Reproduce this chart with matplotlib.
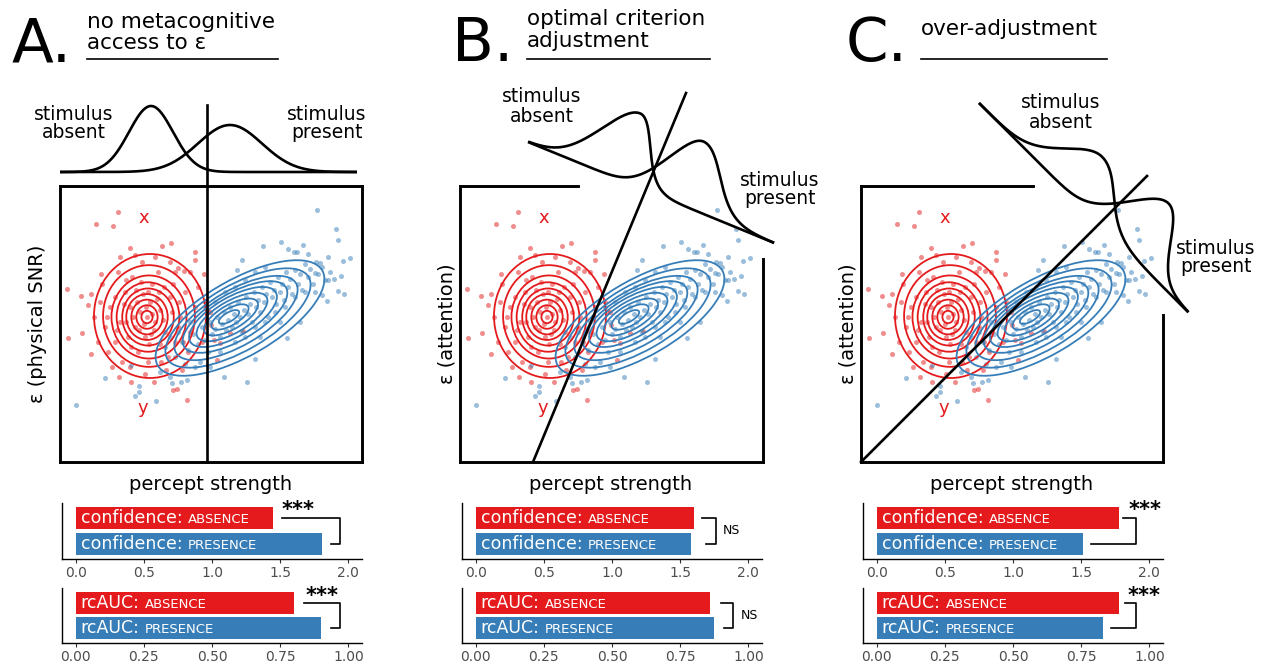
import numpy as np
import matplotlib
matplotlib.use("Agg")
import matplotlib.pyplot as plt
from matplotlib.patches import Ellipse

plt.rcParams['font.family'] = ['DejaVu Sans']

RED = '#E41A1C'
BLUE = '#377EB8'

# ---------------- data ----------------
panel_letters = ['A.', 'B.', 'C.']
panel_titles = [['no metacognitive', 'access to ε'], ['optimal criterion', 'adjustment'], ['over-adjustment']]
y_labels = ['ε (physical SNR)', 'ε (attention)', 'ε (attention)']
x_label = 'percept strength'

# simulated trials (arbitrary units: percept strength, epsilon)
red_points = [
    (58, 250), (36, 238), (53, 236), (70, 214), (102, 216), (111, 219), (135, 210), (135, 202),
    (7, 173), (21, 166), (31, 168), (28, 157), (8, 124), (22, 129), (31, 108), (59, 85),
    (71, 80), (113, 72), (117, 73), (127, 62), (94, 80), (75, 207), (118, 194), (124, 191),
    (144, 188), (41, 188),
    (151, 137), (170, 129), (183, 131), (160, 119), (157, 102), (154, 122), (145, 160), (150, 150),
    (87, 145), (80, 150), (95, 140), (90, 160), (75, 135), (100, 152), (70, 155), (105, 130),
    (85, 125), (60, 140), (110, 165), (65, 170), (92, 178), (78, 110), (115, 120), (55, 120),
    (120, 145), (50, 155), (98, 190), (72, 185), (125, 170), (45, 135), (88, 100), (62, 100),
    (108, 105), (130, 130), (40, 160), (82, 200), (115, 190), (58, 190), (135, 155), (48, 110),
    (100, 118), (68, 125), (94, 132), (83, 168), (73, 145), (104, 175), (118, 135), (66, 140),
    (86, 155), (79, 132), (97, 163), (89, 118), (55, 165), (112, 150), (76, 172), (103, 142),
    (64, 158), (92, 148), (128, 110), (42, 178), (70, 95), (106, 92), (138, 175), (52, 95),
    (122, 92), (34, 145), (142, 120), (95, 205), (60, 205), (110, 200), (130, 190), (38, 120),
    (85, 88), (148, 150), (84, 138), (91, 128), (77, 160), (99, 170), (101, 100), (57, 132),
    (71, 115), (119, 160), (66, 182), (113, 178), (123, 120), (47, 145), (88, 170), (81, 180),
]
blue_points = [
    (257, 252), (276, 233), (278, 222), (221, 220), (243, 217), (234, 210), (203, 216), (182, 202),
    (290, 204), (283, 201), (274, 183), (281, 186), (268, 182), (278, 171), (284, 168), (267, 161),
    (262, 167), (240, 140), (195, 103), (187, 80), (164, 85), (45, 84), (16, 57), (75, 66),
    (79, 70), (96, 61), (121, 80), (127, 82), (177, 192), (227, 124), (228, 213), (248, 208),
    (237, 210), (255, 189), (260, 199), (79, 76), (71, 97), (100, 90), (112, 79), (110, 85),
    (115, 105), (122, 120), (128, 112), (133, 128), (138, 118), (142, 135), (145, 122), (148, 110),
    (150, 140), (152, 128), (155, 133), (157, 145), (160, 125), (162, 138), (164, 150), (166, 132),
    (168, 142), (170, 155), (172, 135), (174, 148), (176, 140), (178, 160), (180, 145), (182, 130),
    (184, 152), (186, 165), (188, 148), (190, 158), (192, 140), (194, 170), (196, 155), (198, 162),
    (200, 150), (202, 175), (204, 160), (206, 168), (208, 145), (210, 180), (212, 165), (214, 172),
    (216, 158), (218, 185), (220, 170), (222, 178), (224, 162), (226, 190), (228, 175), (230, 183),
    (232, 168), (235, 192), (238, 178), (240, 188), (242, 172), (245, 198), (248, 185), (250, 193),
    (253, 178), (256, 200), (258, 188), (262, 195), (265, 182), (268, 205), (270, 190), (140, 100),
    (160, 110), (175, 120), (185, 125), (195, 135), (205, 140), (215, 150), (225, 155), (235, 165),
    (245, 170), (130, 140), (145, 155), (155, 160), (165, 170), (175, 175), (185, 182), (195, 190),
    (205, 195), (118, 130), (125, 98), (135, 95), (150, 95), (105, 115), (110, 125), (200, 125),
    (220, 140), (255, 170),
]

# density contours (approximated as nested ellipses)
red_levels = [1.0, 0.82, 0.67, 0.56, 0.46, 0.37, 0.28, 0.19, 0.10]
red_cx = [90, 89, 89, 88, 88, 87, 87, 87, 87]
red_cy = [146, 146, 145, 145, 145, 145, 145, 145, 145]
red_semi = (56, 62)
blue_levels = [1.0, 0.86, 0.73, 0.62, 0.52, 0.42, 0.32, 0.22, 0.12]
blue_cx = [180, 178, 176, 175, 173, 172, 171, 170, 169]
blue_cy = [144, 144, 144, 145, 145, 145, 145, 145, 145]
blue_semi = (95, 38)
blue_angle = 30

# decision criterion per panel (x0, y0, x1, y1)
criteria = [(147, 0, 147, 357), (73, 0, 226, 369), (0, 0, 286, 286)]

# 1D distributions along the axis orthogonal to the criterion
dist_origin = [(0, 290), (68, 320), (118, 359)]
dist_angle = [0, -22.3, -45]
dist_length = [297, 266, 296]
# (centre, height, sd left, sd right)
absent_dist = [(91, 66, 22, 22), (93, 69, 29, 22), (125, 49, 31, 36)]
present_dist = [(170, 47, 32, 32), (162, 67, 25, 29), (205, 63, 28, 28)]

# bar values
conf_absence = [1.45, 1.60, 1.78]
conf_presence = [1.81, 1.58, 1.51]
auc_absence = [0.80, 0.86, 0.89]
auc_presence = [0.90, 0.875, 0.83]
sig_conf = ['***', 'NS', '***']
sig_auc = ['***', 'NS', '***']

# ---------------- layout ----------------
W, H = 1269, 667
offsets = [0, 400, 801]

fig = plt.figure(figsize=(W / 100, H / 100), dpi=100)


def fa(l, t, w, h):
    return [l / W, (H - t - h) / H, w / W, h / H]


frames = [
    [((0, 0), (0, 276)), ((0, 0), (302, 0)), ((0, 276), (302, 276)), ((302, 0), (302, 276))],
    [((0, 0), (0, 276)), ((0, 0), (303, 0)), ((0, 276), (118, 276)), ((303, 0), (303, 203))],
    [((0, 0), (0, 276)), ((0, 0), (302, 0)), ((0, 276), (172, 276)), ((302, 0), (302, 147))],
]
stim_absent_pos = [(74, 114), (542, 97), (1061, 103)]
stim_present_pos = [(327, 114), (780, 180), (1216, 248)]

bracket_conf = [(1.51, 1.94, 1.87), (1.66, 1.76, 1.69), (1.81, 1.90, 1.575)]
bracket_auc = [(0.838, 0.97, 0.938), (0.90, 0.945, 0.909), (0.91, 0.952, 0.86)]
sig_conf_x = [1.63, 1.81, 1.965]
sig_auc_x = [0.905, 0.973, 0.982]


def dist_curve(t, c, h, sl, sr):
    s = np.where(t < c, sl, sr)
    return h * np.exp(-0.5 * ((t - c) / s) ** 2)


for i, off in enumerate(offsets):
    ax = fig.add_axes(fa(60 + off, 186, 302, 276))
    ax.set_xlim(0, 302)
    ax.set_ylim(0, 276)
    ax.axis('off')
    rx, ry = zip(*red_points)
    bx, by = zip(*blue_points)
    ax.scatter(rx, ry, s=13, color=RED, alpha=0.5, lw=0, zorder=2)
    ax.scatter(bx, by, s=13, color=BLUE, alpha=0.5, lw=0, zorder=2)
    for lev, cx, cy in zip(red_levels, red_cx, red_cy):
        ax.add_patch(Ellipse((cx, cy), 2 * red_semi[0] * lev, 2 * red_semi[1] * lev,
                             fill=False, ec=RED, lw=1.3, zorder=3))
    for lev, cx, cy in zip(blue_levels, blue_cx, blue_cy):
        ax.add_patch(Ellipse((cx, cy), 2 * blue_semi[0] * lev, 2 * blue_semi[1] * lev,
                             angle=blue_angle, fill=False, ec=BLUE, lw=1.3, zorder=3))
    for (p0, p1) in frames[i]:
        ax.plot([p0[0], p1[0]], [p0[1], p1[1]], color='black', lw=2.1,
                solid_capstyle='projecting', clip_on=False, zorder=5)
    x0, y0, x1, y1 = criteria[i]
    ax.plot([x0, x1], [y0, y1], color='black', lw=1.9, clip_on=False, zorder=5)
    # distributions
    ox, oy = dist_origin[i]
    a = np.deg2rad(dist_angle[i])
    t = np.linspace(0, dist_length[i], 500)
    for prm in (absent_dist[i], present_dist[i]):
        hh = dist_curve(t, *prm)
        xs = ox + t * np.cos(a) - hh * np.sin(a)
        ys = oy + t * np.sin(a) + hh * np.cos(a)
        ax.plot(xs, ys, color='black', lw=1.9, clip_on=False, zorder=5,
                solid_capstyle='butt')
    ax.text(84, 244, 'x', color=RED, fontsize=13, ha='center', va='center', zorder=6)
    ax.text(83, 54, 'y', color=RED, fontsize=13, ha='center', va='center', zorder=6)

# overlay for text
ov = fig.add_axes([0, 0, 1, 1])
ov.set_xlim(0, W)
ov.set_ylim(H, 0)
ov.axis('off')
ov.patch.set_visible(False)

title_lines_x = [87, 527, 921]
title_line_end = [278, 710, 1107]
letter_x = [12, 452, 846]
for i, off in enumerate(offsets):
    ov.text(letter_x[i], 61, panel_letters[i], fontsize=44, ha='left', va='baseline')
    lines = panel_titles[i]
    if len(lines) == 2:
        ov.text(title_lines_x[i], 22 if i == 0 else 19, lines[0], fontsize=15.5, ha='left', va='center')
        ov.text(title_lines_x[i], 43 if i == 0 else 41, lines[1], fontsize=15.5, ha='left', va='center')
    else:
        ov.text(title_lines_x[i], 29, lines[0], fontsize=15.5, ha='left', va='center')
    ov.plot([title_lines_x[i], title_line_end[i]], [59, 59], color='black', lw=1.2)
    ov.text(211 + off, 484, x_label, fontsize=14, ha='center', va='center')
    ov.text([38, 447, 848][i], 324, y_labels[i], fontsize=14, rotation=90, ha='center', va='center')
    ax_, ay_ = stim_absent_pos[i]
    ov.text(ax_, ay_, 'stimulus', fontsize=13.5, ha='center', va='center')
    ov.text(ax_, ay_ + 19, 'absent', fontsize=13.5, ha='center', va='center')
    px_, py_ = stim_present_pos[i]
    ov.text(px_, py_, 'stimulus', fontsize=13.5, ha='center', va='center')
    ov.text(px_, py_ + 19, 'present', fontsize=13.5, ha='center', va='center')


def bar_axes(rect, xlim, ticks, ticklabels, vals, word, sig, br, sigx, sig_y):
    bax = fig.add_axes(rect)
    bax.set_xlim(*xlim)
    bax.set_ylim(-0.6, 1.6)
    bax.barh([1, 0], vals, height=0.88, color=[RED, BLUE], zorder=2)
    for s in ['top', 'right']:
        bax.spines[s].set_visible(False)
    for s in ['left', 'bottom']:
        bax.spines[s].set_linewidth(1.0)
        bax.spines[s].set_color('black')
    bax.set_yticks([])
    bax.set_xticks(ticks)
    bax.set_xticklabels(ticklabels)
    bax.tick_params(axis='x', length=3, width=0.8, color='#333333', labelcolor='#4D4D4D',
                    labelsize=10, pad=2)
    bax.patch.set_visible(False)
    for yy, cond in [(1, 'ABSENCE'), (0, 'PRESENCE')]:
        t1 = bax.annotate(word, xy=(0, yy), xycoords='data', xytext=(5, 0),
                          textcoords='offset pixels', color='white', fontsize=12.5,
                          ha='left', va='center', zorder=4)
        bax.annotate(cond, xy=(1, 0), xycoords=t1, xytext=(4, 0.7),
                     textcoords='offset points', color='white', fontsize=9.5,
                     ha='left', va='bottom', zorder=4)
    top_s, vx, bot_s = br
    bax.plot([top_s, vx, vx, bot_s], [1, 1, 0, 0], color='black', lw=1.2, clip_on=False)
    if sig == 'NS':
        bax.text(sigx, 0.5, 'NS', fontsize=9, ha='left', va='center', clip_on=False)
    else:
        bax.text(sigx, sig_y, sig, fontsize=15, fontweight='bold', ha='center',
                 va='center', clip_on=False)
    return bax


for i, off in enumerate(offsets):
    bar_axes(fa(62 + off, 503, 300, 56), (-0.1, 2.1), [0, 0.5, 1.0, 1.5, 2.0],
             ['0.0', '0.5', '1.0', '1.5', '2.0'], [conf_absence[i], conf_presence[i]],
             'confidence:', sig_conf[i], bracket_conf[i], sig_conf_x[i], 1.33)
    bar_axes(fa(62 + off, 588, 300, 55), (-0.05, 1.05), [0, 0.25, 0.5, 0.75, 1.0],
             ['0.00', '0.25', '0.50', '0.75', '1.00'], [auc_absence[i], auc_presence[i]],
             'rcAUC:', sig_auc[i], bracket_auc[i], sig_auc_x[i], 1.29)

fig.savefig('out.png', dpi=100)
